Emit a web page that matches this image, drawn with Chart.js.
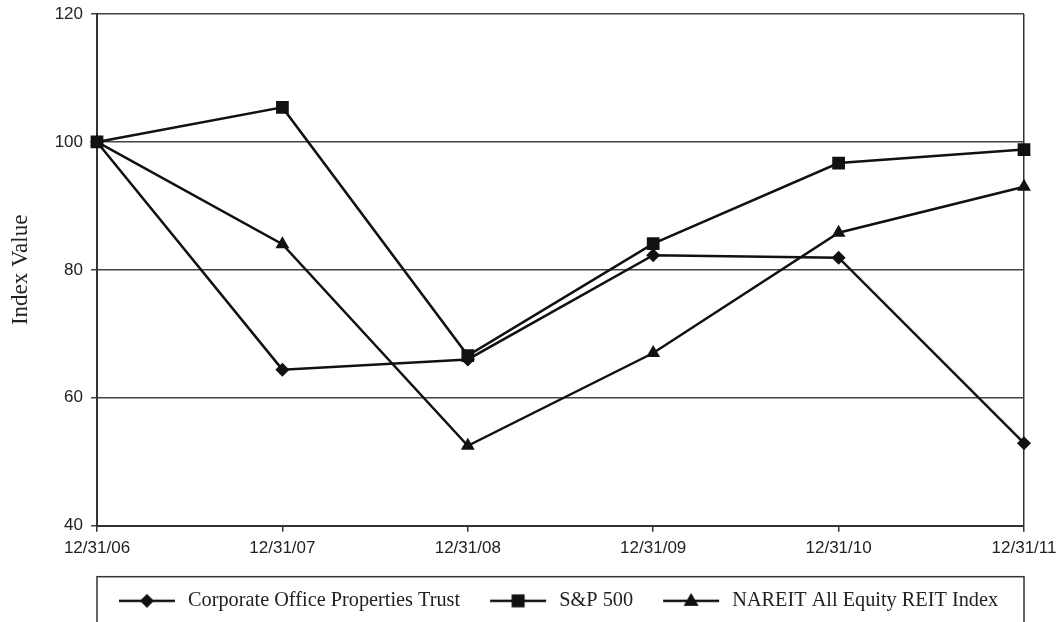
<!DOCTYPE html>
<html>
<head>
<meta charset="utf-8">
<script src="https://cdn.jsdelivr.net/npm/chart.js@4.4.1/dist/chart.umd.min.js"></script>
<style>
  body { margin: 0; background: #fff; }
  #wrap { width: 1060px; height: 622px; position: relative; }
</style>
</head>
<body>
<div id="wrap"><canvas id="grafico"></canvas></div>
<script>
const categorias = ['12/31/06', '12/31/07', '12/31/08', '12/31/09', '12/31/10', '12/31/11'];
const corporateOffice = [100, 64.4, 66.0, 82.3, 81.9, 52.9];
const sp500 = [100, 105.4, 66.6, 84.1, 96.7, 98.8];
const nareit = [100, 84.0, 52.5, 67.0, 85.8, 93.0];
const seriesNames = ['Corporate Office Properties Trust', 'S&P 500', 'NAREIT All Equity REIT Index'];
const yMin = 40, yMax = 120, yStep = 20;

const ink = '#111';

// little "line + marker" icons for the legend
function legendIcon(shape) {
    const c = document.createElement('canvas');
    c.width = 77; c.height = 20;
    const g = c.getContext('2d');
    g.strokeStyle = ink; g.fillStyle = ink; g.lineWidth = 2.5;
    g.beginPath(); g.moveTo(18, 10); g.lineTo(74, 10); g.stroke();
    const cx = 46, cy = 10;
    g.beginPath();
    if (shape === 'rectRot') {
        g.moveTo(cx, cy - 7); g.lineTo(cx + 7, cy); g.lineTo(cx, cy + 7); g.lineTo(cx - 7, cy);
    } else if (shape === 'rect') {
        g.rect(cx - 6.5, cy - 6.5, 13, 13);
    } else {
        g.moveTo(cx, cy - 8); g.lineTo(cx + 7.5, cy + 5); g.lineTo(cx - 7.5, cy + 5);
    }
    g.closePath(); g.fill();
    return c;
}
const icons = [legendIcon('rectRot'), legendIcon('rect'), legendIcon('triangle')];

const moldura = {
    id: 'moldura',
    beforeDraw(chart) {
        const a = chart.chartArea;
        chart.legend.left = a.left - 22;
        chart.legend.right = a.right;
    },
    afterDraw(chart) {
        const ctx = chart.ctx, a = chart.chartArea, lg = chart.legend;
        ctx.save();
        ctx.strokeStyle = '#333';
        ctx.lineWidth = 1.5;
        ctx.strokeRect(a.left, lg.top - 2, a.right - a.left, 80);
        ctx.restore();
    }
};

const ctxGrafico = document.getElementById('grafico').getContext('2d');
const grafico = new Chart(ctxGrafico, {
    type: 'line',
    data: {
        labels: categorias,
        datasets: [{
            label: seriesNames[0],
            data: corporateOffice,
            borderColor: ink, backgroundColor: ink,
            borderWidth: 2.5,
            pointStyle: 'rectRot', pointRadius: 7,
            pointBorderWidth: 0
        }, {
            label: seriesNames[1],
            data: sp500,
            borderColor: ink, backgroundColor: ink,
            borderWidth: 2.5,
            pointStyle: 'rect', pointRadius: 9,
            pointBorderWidth: 0
        }, {
            label: seriesNames[2],
            data: nareit,
            borderColor: ink, backgroundColor: ink,
            borderWidth: 2.5,
            pointStyle: 'triangle', pointRadius: 8,
            pointBorderWidth: 0
        }]
    },
    options: {
        responsive: true,
        maintainAspectRatio: false,
        animation: false,
        layout: { padding: { top: 14, right: 36, left: 0, bottom: 1 } },
        scales: {
            x: {
                offset: false,
                afterFit(s) { s.height = 53; s.paddingLeft = 0; s.paddingRight = 0; },
                grid: {
                    color: c => c.index === categorias.length - 1 ? '#333' : 'transparent',
                    tickColor: '#333',
                    lineWidth: 1.5,
                    tickLength: 6
                },
                border: { color: '#333', width: 2 },
                ticks: {
                    color: '#222',
                    padding: 6,
                    maxRotation: 0,
                    font: { family: 'Liberation Sans', size: 17 }
                }
            },
            y: {
                min: yMin, max: yMax,
                afterFit(s) { s.width = 97; s.paddingTop = 0; s.paddingBottom = 0; },
                grid: { color: '#444', lineWidth: 1.5, tickLength: 6 },
                border: { color: '#333', width: 2 },
                ticks: {
                    stepSize: yStep,
                    color: '#222',
                    padding: 8,
                    font: { family: 'Liberation Sans', size: 17 }
                },
                title: {
                    display: true,
                    text: 'Index Value',
                    color: '#222',
                    padding: { top: 7, bottom: 0 },
                    font: { family: 'Liberation Serif', size: 23 }
                }
            }
        },
        plugins: {
            legend: {
                position: 'bottom',
                labels: {
                    usePointStyle: true,
                    pointStyleWidth: 77,
                    padding: 12,
                    color: '#222',
                    font: { family: 'Liberation Serif', size: 20.3 },
                    generateLabels(chart) {
                        return chart.data.datasets.map((d, i) => ({
                            text: d.label,
                            pointStyle: icons[i],
                            fillStyle: ink,
                            strokeStyle: ink,
                            lineWidth: 0,
                            hidden: false,
                            datasetIndex: i,
                            fontColor: '#222'
                        }));
                    }
                }
            },
            tooltip: { enabled: false }
        }
    },
    plugins: [moldura]
});
</script>
</body>
</html>
